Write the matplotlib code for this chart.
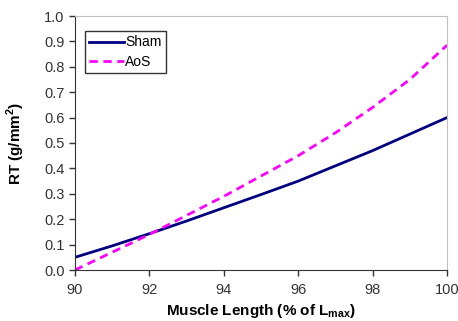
import matplotlib
matplotlib.use("Agg")
import matplotlib.pyplot as plt

plt.rcParams['font.family'] = ['Liberation Sans', 'DejaVu Sans']
plt.rcParams['mathtext.fontset'] = 'custom'
plt.rcParams['mathtext.rm'] = 'Liberation Sans'
plt.rcParams['mathtext.bf'] = 'Liberation Sans:bold'

# muscle length (% of Lmax)
length = [90, 91, 92, 93, 94, 95, 96, 97, 98, 99, 100]
sham = [0.05, 0.095, 0.143, 0.193, 0.245, 0.297, 0.35, 0.41, 0.47, 0.535, 0.60]
aos = [0.0, 0.07, 0.14, 0.215, 0.29, 0.37, 0.45, 0.54, 0.64, 0.75, 0.885]

fig = plt.figure(figsize=(4.58, 3.21), dpi=100)
ax = fig.add_axes([75/458, 1 - 270/321, 372/458, 254/321])

ax.plot(length, sham, color='#000080', lw=2, label='Sham')
ax.plot(length, aos, color='#ff00ff', lw=2, ls=(0, (3, 2)), label='AoS')

ax.set_xlim(90, 100)
ax.set_ylim(0, 1.0)
ax.set_xticks([90, 92, 94, 96, 98, 100])
ax.set_yticks([i / 10 for i in range(11)])
ax.set_yticklabels(['%.1f' % (i / 10) for i in range(11)])
ax.tick_params(labelsize=10.5, colors='#333333', length=4, width=1, direction='out')
ax.tick_params(axis='x', pad=5)

for s in ['top', 'right']:
    ax.spines[s].set_color('#c0c0c0')
for s in ['left', 'bottom']:
    ax.spines[s].set_color('#333333')

ax.set_xlabel(r'Muscle Length (% of L$_{\mathbf{max}}$)', fontsize=11, fontweight='bold', labelpad=4)
ax.set_ylabel(r'RT (g/mm$^{\mathbf{2}}$)', fontsize=11, fontweight='bold', labelpad=12)

leg = ax.legend(loc='upper left', bbox_to_anchor=(0.027, 0.94), fontsize=10, fancybox=False,
                edgecolor='black', handlelength=2.5, handletextpad=0.1, borderpad=0.3,
                labelspacing=0.4, borderaxespad=0)
leg.get_frame().set_linewidth(1)

fig.savefig('out.png', dpi=100)
